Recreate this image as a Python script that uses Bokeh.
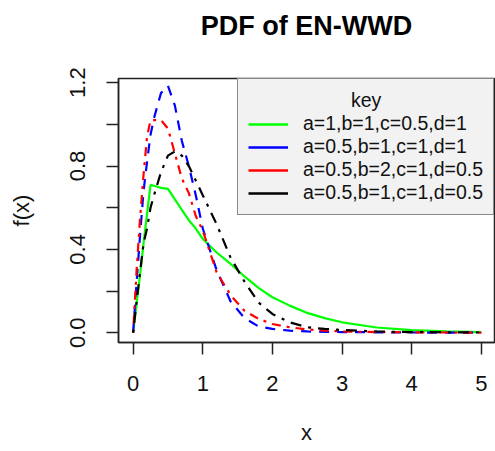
from bokeh.plotting import figure
from bokeh.models import Range1d, FixedTicker, Legend, LegendItem, Title, PrintfTickFormatter
from bokeh.embed import file_html
from bokeh.resources import INLINE

# ---- data ----
x_vals = [0, 0.05, 0.1, 0.15, 0.2, 0.25, 0.3, 0.4, 0.5, 0.6, 0.7, 0.8, 0.9, 1.0,
          1.2, 1.4, 1.6, 1.8, 2.0, 2.25, 2.5, 2.75, 3.0, 3.5, 4.0, 4.5, 5.0]
green_y = [0, 0.14, 0.28, 0.43, 0.57, 0.71, 0.705, 0.695, 0.69, 0.64, 0.59, 0.54, 0.50, 0.45,
           0.385, 0.33, 0.27, 0.215, 0.17, 0.13, 0.095, 0.07, 0.05, 0.025, 0.012, 0.006, 0.003]
blue_y = [0, 0.24, 0.47, 0.68, 0.82, 0.95, 1.03, 1.15, 1.185, 1.09, 0.92, 0.80, 0.66, 0.50,
          0.30, 0.15, 0.07, 0.03, 0.018, 0.01, 0.006, 0.004, 0.003, 0.002, 0.001, 0.0005, 0.0]
red_y = [0, 0.30, 0.55, 0.76, 0.94, 1.02, 1.02, 1.02, 0.98, 0.86, 0.74, 0.67, 0.56, 0.49,
         0.29, 0.18, 0.105, 0.067, 0.042, 0.026, 0.016, 0.01, 0.006, 0.003, 0.002, 0.001, 0.0]
black_y = [0, 0.15, 0.29, 0.43, 0.50, 0.60, 0.66, 0.77, 0.85, 0.87, 0.85, 0.80, 0.73, 0.66,
           0.52, 0.36, 0.245, 0.145, 0.09, 0.05, 0.026, 0.018, 0.013, 0.006, 0.003, 0.002, 0.001]

labels = ["a=1,b=1,c=0.5,d=1", "a=0.5,b=1,c=1,d=1",
          "a=0.5,b=2,c=1,d=0.5", "a=0.5,b=1,c=1,d=0.5"]
series = [green_y, blue_y, red_y, black_y]
colors = ["#00ff00", "#0000ff", "#ff0000", "#000000"]
dashes = ["solid", "10 8", "3 6 9 6", "3 7 11 7"]

x_ticks = [0, 1, 2, 3, 4, 5]
y_ticks = [0.0, 0.4, 0.8, 1.2]
y_minor = [0.2, 0.6, 1.0]

FONT = "Liberation Sans"
NAN = float("nan")

p = figure(width=495, height=451, output_backend="svg", toolbar_location=None,
           x_range=Range1d(-0.21, 5.19), y_range=Range1d(-0.047, 1.22),
           min_border_left=118, min_border_right=1, min_border_top=78, min_border_bottom=109,
           x_axis_label="x", y_axis_label="f(x)")
p.grid.visible = False
p.background_fill_color = "white"
p.border_fill_color = "white"
p.outline_line_color = "#222222"
p.outline_line_width = 1.5

# spacer panel next to the frame, then the real title above it
p.add_layout(Title(text=" ", text_font=FONT, text_font_size="20px", standoff=13), "above")
p.add_layout(Title(text="PDF of EN-WWD", text_font=FONT, text_font_size="27px",
                   text_font_style="bold", text_color="black", align="center", standoff=2),
             "above")

for ax in (p.xaxis[0], p.yaxis[0]):
    ax.axis_line_color = "#222222"
    ax.axis_line_width = 1.5
    ax.major_tick_line_color = "#222222"
    ax.major_tick_line_width = 1.5
    ax.major_tick_out = 12
    ax.major_tick_in = 0
    ax.minor_tick_line_color = "#222222"
    ax.minor_tick_line_width = 1.5
    ax.minor_tick_out = 12
    ax.minor_tick_in = 0
    ax.major_label_text_font = FONT
    ax.major_label_text_font_size = "22px"
    ax.major_label_text_color = "#111111"
    ax.axis_label_text_font = FONT
    ax.axis_label_text_font_size = "22px"
    ax.axis_label_text_font_style = "normal"
    ax.axis_label_text_color = "#111111"
    ax.major_label_standoff = 21

p.xaxis.ticker = FixedTicker(ticks=x_ticks, minor_ticks=[])
p.yaxis.ticker = FixedTicker(ticks=y_ticks, minor_ticks=y_minor)
p.yaxis.formatter = PrintfTickFormatter(format="%.1f")
p.yaxis.major_label_orientation = "vertical"
p.xaxis.axis_label_standoff = 26
p.yaxis.axis_label_standoff = 34

items = []
for lab, ys, col, dash in zip(labels, series, colors, dashes):
    p.line(x_vals, ys, line_color=col, line_width=2.2, line_dash=dash)
    dummy = p.line(x=[NAN, NAN], y=[NAN, NAN], line_color=col, line_width=2.5)
    items.append(LegendItem(label=lab, renderers=[dummy]))

legend = Legend(items=items, location="top_right", margin=0, padding=10, spacing=0,
                glyph_width=40, glyph_height=20, label_height=20, label_width=170,
                label_standoff=15, title="\u00a0" * 19 + "key", title_text_font=FONT,
                title_text_font_size="19.5px", title_text_color="#111111",
                title_text_font_style="normal", title_standoff=0,
                background_fill_color="#f2f2f2", background_fill_alpha=1.0,
                border_line_color="#222222", border_line_width=1.5,
                label_text_font=FONT, label_text_font_size="19.5px", label_text_color="#111111")
p.add_layout(legend)

open("out.html", "w").write(file_html(p, INLINE))
